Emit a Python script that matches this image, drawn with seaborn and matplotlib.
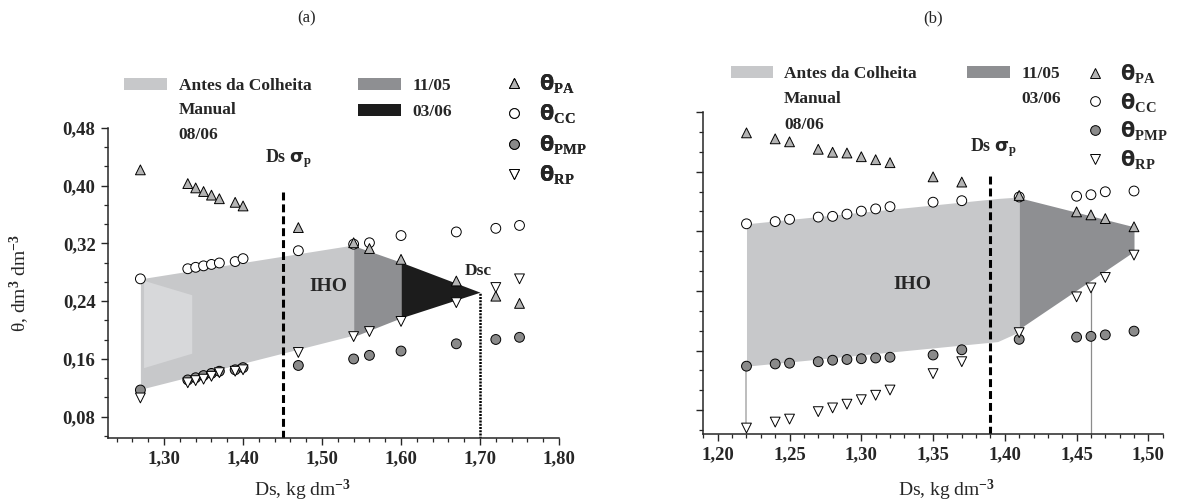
import matplotlib
matplotlib.use('Agg')
import matplotlib.pyplot as plt
import seaborn as sns
import pandas as pd
from matplotlib.patches import Patch
from matplotlib.lines import Line2D
from matplotlib.ticker import MultipleLocator, AutoMinorLocator, FuncFormatter

# ---------------- data, panel (a)
ds_a = [1.27, 1.33, 1.34, 1.35, 1.36, 1.37, 1.39, 1.40, 1.47, 1.54, 1.56, 1.60, 1.67, 1.72, 1.75]
pa_a = [0.422, 0.403, 0.397, 0.392, 0.387, 0.382, 0.377, 0.372, 0.342, 0.321, 0.313, 0.298, 0.268, 0.247, 0.237]
cc_a = [0.271, 0.285, 0.287, 0.289, 0.291, 0.293, 0.295, 0.299, 0.310, 0.319, 0.321, 0.331, 0.336, 0.341, 0.345]
pmp_a = [0.117, 0.131, 0.134, 0.137, 0.140, 0.143, 0.145, 0.148, 0.151, 0.160, 0.165, 0.171, 0.181, 0.187, 0.190]
rp_a = [0.106, 0.127, 0.130, 0.132, 0.136, 0.141, 0.143, 0.145, 0.169, 0.191, 0.198, 0.212, 0.238, 0.259, 0.271]

# IHO areas (a)
antes_x_a = [1.27, 1.54]
antes_top_a = [0.271, 0.318]
antes_bot_a = [0.118, 0.193]
manual_x_a = [1.274, 1.335]
manual_top_a = [0.269, 0.249]
manual_bot_a = [0.148, 0.168]
d1105_x_a = [1.54, 1.60]
d1105_top_a = [0.317, 0.294]
d1105_bot_a = [0.191, 0.217]
d0306_x_a = [1.60, 1.70]
d0306_top_a = [0.294, 0.2525]
d0306_bot_a = [0.217, 0.2525]
ds_sigma_a = 1.45
dsc_a = 1.70
dsc_theta_a = 0.2525

# ---------------- data, panel (b)
ds_b = [1.22, 1.24, 1.25, 1.27, 1.28, 1.29, 1.30, 1.31, 1.32, 1.35, 1.37, 1.41, 1.45, 1.46, 1.47, 1.49]
pa_b = [0.452, 0.444, 0.440, 0.430, 0.426, 0.425, 0.420, 0.416, 0.412, 0.393, 0.386, 0.368, 0.346, 0.342, 0.337, 0.326]
cc_b = [0.330, 0.333, 0.336, 0.339, 0.340, 0.343, 0.347, 0.350, 0.353, 0.359, 0.361, 0.366, 0.367, 0.369, 0.373, 0.374]
pmp_b = [0.139, 0.142, 0.143, 0.145, 0.147, 0.148, 0.149, 0.150, 0.151, 0.154, 0.161, 0.175, 0.178, 0.179, 0.181, 0.186]
rp_b = [0.056, 0.064, 0.068, 0.078, 0.083, 0.088, 0.094, 0.100, 0.107, 0.129, 0.145, 0.184, 0.232, 0.244, 0.258, 0.288]

antes_x_b = [1.22, 1.395, 1.41]
antes_top_b = [0.330, 0.364, 0.366]
antes_bot_b = [0.139, 0.172, 0.185]
d1105_x_b = [1.41, 1.49]
d1105_top_b = [0.365, 0.326]
d1105_bot_b = [0.189, 0.293]
ds_sigma_b = 1.39
link_x_b = 1.22        # grey line pmp -> rp
drop_x_b = 1.46        # grey line rp -> axis
drop_theta_b = 0.244

# colours
c_antes = '#c7c8ca'
c_manual = '#d7d8da'
c_1105 = '#8e8f92'
c_0306 = '#1c1c1c'
c_pa = '#b4b4b4'
c_pmp = '#8a8a8a'

sns.set_style('ticks')
plt.rcParams['font.family'] = ['Liberation Serif', 'DejaVu Serif']
plt.rcParams['font.weight'] = 'bold'
plt.rcParams['mathtext.fontset'] = 'custom'
plt.rcParams['mathtext.rm'] = 'Liberation Serif'
plt.rcParams['mathtext.bf'] = 'Liberation Serif:bold'
plt.rcParams['mathtext.it'] = 'Liberation Serif:italic'
plt.rcParams['mathtext.sf'] = 'DejaVu Sans:bold'

fig = plt.figure(figsize=(11.82, 5.04), dpi=100)
W, H = 1182, 504
ax1 = fig.add_axes([108 / W, 1 - 438 / H, 451 / W, 310 / H])
ax2 = fig.add_axes([703 / W, 1 - 434 / H, 460 / W, 322 / H])

names = ['cc', 'pmp', 'pa', 'rp']
markers = {'pa': '^', 'cc': 'o', 'pmp': 'o', 'rp': 'v'}
palette = {'pa': c_pa, 'cc': 'white', 'pmp': c_pmp, 'rp': 'white'}


def long_df(ds, cc, pmp, pa, rp):
    parts = []
    for n, vals in zip(names, [cc, pmp, pa, rp]):
        parts.append(pd.DataFrame({'Ds': ds, 'theta': vals, 'var': n}))
    return pd.concat(parts, ignore_index=True)


df_a = long_df(ds_a, cc_a, pmp_a, pa_a, rp_a)
df_b = long_df(ds_b, cc_b, pmp_b, pa_b, rp_b)

fmt = FuncFormatter(lambda v, p: f'{v:.2f}'.replace('.', ','))

# ---------------- panel (a)
ax = ax1
ax.fill_between(antes_x_a, antes_bot_a, antes_top_a, color=c_antes, lw=0, zorder=1)
ax.fill_between(manual_x_a, manual_bot_a, manual_top_a, color=c_manual, lw=0, zorder=1.1)
ax.fill_between(d1105_x_a, d1105_bot_a, d1105_top_a, color=c_1105, lw=0, zorder=1)
ax.fill_between(d0306_x_a, d0306_bot_a, d0306_top_a, color=c_0306, lw=0, zorder=1)
ax.vlines(ds_sigma_a, 0, 0.392, color='black', lw=2.2, linestyles=(0, (2.6, 1.3)), zorder=2)
ax.vlines(dsc_a, 0, dsc_theta_a, color='black', lw=1.8, linestyles=(0, (0.8, 0.5)), zorder=2)
sns.scatterplot(data=df_a, x='Ds', y='theta', hue='var', style='var', markers=markers,
                palette=palette, s=50, edgecolor='black', linewidth=0.7, legend=False,
                ax=ax, zorder=3)
ax.text(1.457, 0.437, 'Ds $\\mathsf{\\sigma}_{\\mathbf{p}}$', ha='center', va='center', fontsize=13)
ax.text(1.508, 0.261, 'IHO', ha='center', va='center', fontsize=14)
ax.text(1.698, 0.282, 'Dsc', ha='center', va='center', fontsize=12.5)
ax.set_xlim(1.229, 1.80)
ax.set_ylim(0.0505, 0.48)
ax.xaxis.set_major_locator(MultipleLocator(0.1))
ax.xaxis.set_minor_locator(AutoMinorLocator(5))
ax.yaxis.set_major_locator(MultipleLocator(0.08))
ax.yaxis.set_minor_locator(AutoMinorLocator(3))
ax.xaxis.set_major_formatter(fmt)
ax.yaxis.set_major_formatter(fmt)
ax.set_xlabel('Ds, kg dm$^{-3}$', fontweight='normal', fontsize=14, va='center')
ax.xaxis.set_label_coords(0.432, -0.168)
ax.set_ylabel('θ, dm$^3$ dm$^{-3}$', fontweight='normal', fontsize=14, va='center')
ax.yaxis.set_label_coords(-0.195, 0.5)

# ---------------- panel (b)
ax = ax2
ax.fill_between(antes_x_b, antes_bot_b, antes_top_b, color=c_antes, lw=0, zorder=1)
ax.fill_between(d1105_x_b, d1105_bot_b, d1105_top_b, color=c_1105, lw=0, zorder=1)
ax.vlines(ds_sigma_b, 0, 0.398, color='black', lw=2.2, linestyles=(0, (2.6, 1.3)), zorder=2)
ax.vlines(link_x_b, rp_b[0], pmp_b[0], color='#b8b8b8', lw=1.3, zorder=2)
ax.vlines(drop_x_b, 0, drop_theta_b, color='#8c8c8c', lw=0.9, zorder=2)
sns.scatterplot(data=df_b, x='Ds', y='theta', hue='var', style='var', markers=markers,
                palette=palette, s=50, edgecolor='black', linewidth=0.7, legend=False,
                ax=ax, zorder=3)
ax.text(1.392, 0.432, 'Ds $\\mathsf{\\sigma}_{\\mathbf{p}}$', ha='center', va='center', fontsize=13)
ax.text(1.3355, 0.248, 'IHO', ha='center', va='center', fontsize=14)
ax.set_xlim(1.1897, 1.5102)
ax.set_ylim(0.048, 0.48)
ax.xaxis.set_major_locator(MultipleLocator(0.05))
ax.xaxis.set_minor_locator(AutoMinorLocator(5))
ax.yaxis.set_major_locator(MultipleLocator(0.08))
ax.yaxis.set_minor_locator(AutoMinorLocator(3))
ax.xaxis.set_major_formatter(fmt)
ax.yaxis.set_major_formatter(fmt)
ax.tick_params(axis='y', labelleft=False)
ax.set_xlabel('Ds, kg dm$^{-3}$', fontweight='normal', fontsize=14, va='center')
ax.xaxis.set_label_coords(0.53, -0.174)
ax.set_ylabel('')

for ax in [ax1, ax2]:
    sns.despine(ax=ax)
    for s in ['left', 'bottom']:
        ax.spines[s].set_linewidth(1.1)
    ax.tick_params(which='major', direction='out', length=5, width=1, labelsize=13.5, pad=4)
    ax.tick_params(which='minor', direction='out', length=3, width=0.9)

# ---------------- legends
blank = Patch(fc='none', ec='none')
mk_handles = [Line2D([], [], ls='none', marker='^', ms=7, mfc=c_pa, mec='black', mew=0.7),
              Line2D([], [], ls='none', marker='o', ms=7, mfc='white', mec='black', mew=0.7),
              Line2D([], [], ls='none', marker='o', ms=7, mfc=c_pmp, mec='black', mew=0.7),
              Line2D([], [], ls='none', marker='v', ms=7, mfc='white', mec='black', mew=0.7)]
mk_labels = ['$\\mathsf{\\theta}_{\\mathbf{PA}}$', '$\\mathsf{\\theta}_{\\mathbf{CC}}$',
             '$\\mathsf{\\theta}_{\\mathbf{PMP}}$', '$\\mathsf{\\theta}_{\\mathbf{RP}}$']
leg_kw = dict(frameon=False, borderpad=0, borderaxespad=0, bbox_transform=fig.transFigure,
              loc='upper left')

l1 = ax1.legend([Patch(fc=c_antes, ec='none'), blank, blank], ['Antes da Colheita', 'Manual', '08/06'],
                bbox_to_anchor=(124 / W, 1 - 78 / H), prop=dict(weight='bold', size=12.5),
                handlelength=2.5, handletextpad=0.65, labelspacing=0.47, **leg_kw)
ax1.add_artist(l1)
l2 = ax1.legend([Patch(fc=c_1105, ec='none'), Patch(fc=c_0306, ec='none')], ['11/05', '03/06'],
                bbox_to_anchor=(358 / W, 1 - 78 / H), prop=dict(weight='bold', size=12.5),
                handlelength=2.5, handletextpad=0.65, labelspacing=0.55, **leg_kw)
ax1.add_artist(l2)
l3 = ax1.legend(mk_handles, mk_labels, bbox_to_anchor=(504 / W, 1 - 72 / H),
                prop=dict(size=15), handlelength=1.0, handletextpad=0.7, labelspacing=0.36, **leg_kw)
ax1.add_artist(l3)

r1 = ax2.legend([Patch(fc=c_antes, ec='none'), blank, blank], ['Antes da Colheita', 'Manual', '08/06'],
                bbox_to_anchor=(731 / W, 1 - 66 / H), prop=dict(weight='bold', size=12.5),
                handlelength=2.4, handletextpad=0.65, labelspacing=0.52, **leg_kw)
ax2.add_artist(r1)
r2 = ax2.legend([Patch(fc=c_1105, ec='none'), blank], ['11/05', '03/06'],
                bbox_to_anchor=(967 / W, 1 - 66 / H), prop=dict(weight='bold', size=12.5),
                handlelength=2.5, handletextpad=0.65, labelspacing=0.52, **leg_kw)
ax2.add_artist(r2)
r3 = ax2.legend(mk_handles, mk_labels, bbox_to_anchor=(1085 / W, 1 - 62 / H),
                prop=dict(size=15), handlelength=1.0, handletextpad=0.7, labelspacing=0.27, **leg_kw)

fig.text(307 / W, 1 - 18 / H, '(a)', ha='center', va='center', fontsize=12, fontweight='normal')
fig.text(933 / W, 1 - 18 / H, '(b)', ha='center', va='center', fontsize=12, fontweight='normal')

fig.savefig('out.png', dpi=100)
